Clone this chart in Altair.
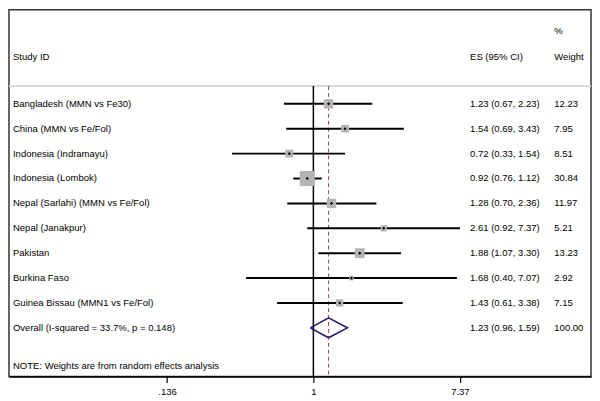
import altair as alt
import pandas as pd

studies = [
    "Bangladesh (MMN vs Fe30)",
    "China (MMN vs Fe/Fol)",
    "Indonesia (Indramayu)",
    "Indonesia (Lombok)",
    "Nepal (Sarlahi) (MMN vs Fe/Fol)",
    "Nepal (Janakpur)",
    "Pakistan",
    "Burkina Faso",
    "Guinea Bissau (MMN1 vs Fe/Fol)",
]
es = [1.23, 1.54, 0.72, 0.92, 1.28, 2.61, 1.88, 1.68, 1.43]
lo = [0.67, 0.69, 0.33, 0.76, 0.70, 0.92, 1.07, 0.40, 0.61]
hi = [2.23, 3.43, 1.54, 1.12, 2.36, 7.37, 3.30, 7.07, 3.38]
weight = [12.23, 7.95, 8.51, 30.84, 11.97, 5.21, 13.23, 2.92, 7.15]

overall_label = "Overall  (I-squared = 33.7%, p = 0.148)"
overall_es, overall_lo, overall_hi, overall_w = 1.23, 0.96, 1.59, 100.00
note = "NOTE: Weights are from random effects analysis"
tick_values = [0.136, 1, 7.37]
tick_labels = [".136", "1", "7.37"]

W, H = 587, 370
FONT = "Liberation Sans, Arial, sans-serif"
FS = 9.6

rows = list(range(len(studies)))
df = pd.DataFrame({
    "study": studies, "es": es, "lo": lo, "hi": hi, "weight": weight, "row": rows,
})
df["es_txt"] = [f"{e:.2f} ({l:.2f}, {h:.2f})" for e, l, h in zip(es, lo, hi)]
df["w_txt"] = [f"{w:.2f}" for w in weight]

ov_row = len(studies)
ov = pd.DataFrame({
    "study": [overall_label], "row": [ov_row],
    "es_txt": [f"{overall_es:.2f} ({overall_lo:.2f}, {overall_hi:.2f})"],
    "w_txt": [f"{overall_w:.2f}"],
})
dia = pd.DataFrame({
    "x": [overall_lo, overall_es, overall_hi, overall_es, overall_lo],
    "row": [ov_row, ov_row - 0.4, ov_row, ov_row + 0.4, ov_row],
    "o": [0, 1, 2, 3, 4],
})

label_expr = " : ".join(
    [f"datum.value == {v} ? '{t}'" for v, t in zip(tick_values, tick_labels)]
) + " : ''"

xs = alt.Scale(type="log", domain=[0.01578, 44.0], nice=False)
ys = alt.Scale(domain=[-3.785, 10.956], reverse=True, nice=False, zero=False)

xaxis = alt.Axis(values=tick_values, labelExpr=label_expr, title=None, grid=False,
                 ticks=True, tickSize=6, tickWidth=1.2, tickColor="#000",
                 domain=True, domainColor="#000", domainWidth=1.5, zindex=1,
                 labelFont=FONT, labelFontSize=FS, labelColor="#000",
                 labelPadding=4)

base = alt.Chart(df)

ci = base.mark_rule(color="#000", strokeWidth=2).encode(
    x=alt.X("lo:Q", scale=xs, axis=xaxis), x2="hi:Q",
    y=alt.Y("row:Q", scale=ys, axis=None),
)
sq = base.transform_calculate(area="datum.weight * 7.5").mark_point(
    shape="square", filled=True, color="#b4b4b4", opacity=1
).encode(
    x=alt.X("es:Q", scale=xs), y=alt.Y("row:Q", scale=ys),
    size=alt.Size("area:Q", scale=None, legend=None),
)
dot = base.mark_point(shape="diamond", filled=True, color="#000", size=10, opacity=1).encode(
    x=alt.X("es:Q", scale=xs), y=alt.Y("row:Q", scale=ys),
)

ref_df = pd.DataFrame({"v": [1.0], "ov": [overall_es]})
null_line = alt.Chart(ref_df).mark_rule(color="#000", strokeWidth=1.5).encode(
    x=alt.X("v:Q", scale=xs), y=alt.value(77), y2=alt.value(H),
)
ov_line = alt.Chart(ref_df).mark_rule(color="#a0405a", strokeWidth=1, strokeDash=[4, 3]).encode(
    x=alt.X("ov:Q", scale=xs), y=alt.value(77), y2=alt.value(H),
)
hline = alt.Chart(ref_df).mark_rule(color="#d8d8d8", strokeWidth=2).encode(
    x=alt.value(0), x2=alt.value(W), y=alt.value(77),
)

diamond = alt.Chart(dia).mark_line(color="#1c1c6e", strokeWidth=1.6).encode(
    x=alt.X("x:Q", scale=xs), y=alt.Y("row:Q", scale=ys), order="o:O",
)

txt = dict(font=FONT, fontSize=FS, color="#000", align="left", baseline="middle")
all_rows = pd.concat([df[["study", "row", "es_txt", "w_txt"]], ov], ignore_index=True)
tb = alt.Chart(all_rows)
name_t = tb.mark_text(**txt).encode(x=alt.value(4), y=alt.Y("row:Q", scale=ys), text="study:N")
es_t = tb.mark_text(**txt).encode(x=alt.value(465), y=alt.Y("row:Q", scale=ys), text="es_txt:N")
w_t = tb.mark_text(**txt).encode(x=alt.value(550), y=alt.Y("row:Q", scale=ys), text="w_txt:N")

hdr = pd.DataFrame({
    "t": ["Study ID", "ES (95% CI)", "%", "Weight", note],
    "px": [4, 465, 550, 550, 4],
    "py": [48, 48, 22, 48, 359],
})
hdr_t = alt.Chart(hdr).mark_text(**txt).encode(
    x=alt.X("px:Q", scale=None), y=alt.Y("py:Q", scale=None), text="t:N"
)

chart = alt.layer(
    hline, ov_line, null_line, ci, sq, dot, diamond, name_t, es_t, w_t, hdr_t
).properties(
    width=W, height=H, padding=0, background="white"
).configure_view(
    stroke="#333", strokeWidth=1.5
)

chart.save("out.html", embed_options={"renderer": "svg", "actions": False})
